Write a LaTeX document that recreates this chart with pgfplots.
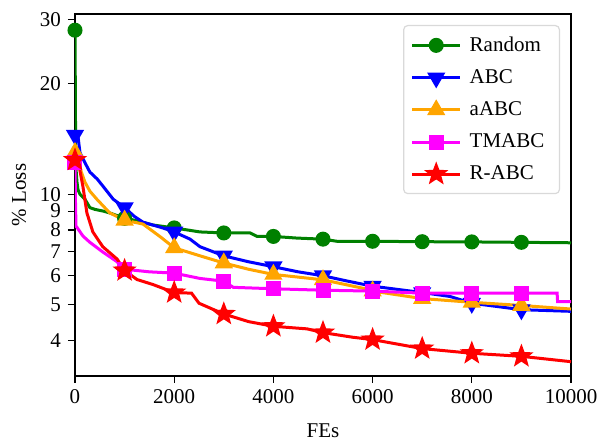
\documentclass[border=0pt]{standalone}
\usepackage{pgfplots}
\pgfplotsset{compat=1.18}
\usepackage{fontspec}
\setmainfont{Liberation Serif}
\usetikzlibrary{calc}
\definecolor{cgreen}{RGB}{0,128,0}
\definecolor{cblue}{RGB}{0,0,255}
\definecolor{corange}{RGB}{255,165,0}
\definecolor{cmag}{RGB}{255,0,255}
\definecolor{cred}{RGB}{255,0,0}
\pgfdeclareplotmark{fstar}{%
  \pgfpathmoveto{\pgfpointpolar{90}{\pgfplotmarksize}}%
  \pgfpathlineto{\pgfpointpolar{126}{0.42\pgfplotmarksize}}%
  \pgfpathlineto{\pgfpointpolar{162}{\pgfplotmarksize}}%
  \pgfpathlineto{\pgfpointpolar{198}{0.42\pgfplotmarksize}}%
  \pgfpathlineto{\pgfpointpolar{234}{\pgfplotmarksize}}%
  \pgfpathlineto{\pgfpointpolar{270}{0.42\pgfplotmarksize}}%
  \pgfpathlineto{\pgfpointpolar{306}{\pgfplotmarksize}}%
  \pgfpathlineto{\pgfpointpolar{342}{0.42\pgfplotmarksize}}%
  \pgfpathlineto{\pgfpointpolar{18}{\pgfplotmarksize}}%
  \pgfpathlineto{\pgfpointpolar{54}{0.42\pgfplotmarksize}}%
  \pgfpathclose\pgfusepathqfillstroke}
\begin{document}
\begin{tikzpicture}
\begin{axis}[
  width=248pt,height=181pt,scale only axis,
  xmin=0,xmax=10000,ymode=log,ymin=3.2,ymax=31,
  scaled x ticks=false,
  xtick={0,2000,4000,6000,8000,10000},
  xticklabels={0,2000,4000,6000,8000,10000},
  ytick={4,5,6,7,8,9,10,20,30},
  yticklabels={4,5,6,7,8,9,10,20,30},
  yminorticks=false,
  tick align=outside, tick pos=left,
  major tick length=3.5pt,
  every tick/.style={black,line width=0.6pt},
  axis line style={line width=0.75pt},
  tick label style={font=\fontsize{10.5}{12}\selectfont},
  label style={font=\fontsize{10.5}{12}\selectfont},
  xlabel={FEs}, ylabel={\% Loss},
  xlabel style={yshift=-3pt},
  legend style={at={(1,1)},anchor=north east,xshift=-5.5pt,yshift=-5.5pt,
    draw=black!15,rounded corners=2pt,line width=0.6pt,
    font=\fontsize{10.5}{12}\selectfont,row sep=3.6pt,inner xsep=3.5pt,inner ysep=3.5pt,
    nodes={inner xsep=4pt}},
  legend cell align=left,
  legend image code/.code={\draw[mark repeat=2,mark phase=2] plot coordinates {(0pt,0pt) (12pt,0pt) (24pt,0pt)};},
  every axis plot/.append style={line width=1.5pt},
]
% Random
\addplot[cgreen,forget plot] coordinates {(0,28) (15,12) (40,10.8) (60,10.3) (100,10.0) (200,9.7) (300,9.2) (400,9.1) (570,9.0) (700,8.9) (900,8.7) (1200,8.5) (1570,8.25) (2000,8.1) (2520,7.9) (3000,7.85) (3530,7.85) (3670,7.68) (4000,7.68) (4480,7.6) (5000,7.55) (5280,7.45) (6000,7.45) (7000,7.43) (8000,7.42) (9000,7.4) (10000,7.38)};
\addplot[cgreen,only marks,mark=*,mark size=3pt,forget plot] coordinates {(0,28) (1000,8.6) (2000,8.1) (3000,7.85) (4000,7.68) (5000,7.55) (6000,7.45) (7000,7.43) (8000,7.42) (9000,7.4)};
% ABC
\addplot[cblue,forget plot] coordinates {(0,14.7) (60,14.4) (100,13.0) (200,12.2) (300,11.5) (450,11.0) (570,10.5) (770,9.7) (1000,9.2) (1200,8.7) (1370,8.4) (1770,8.1) (2000,7.9) (2320,7.55) (2520,7.2) (3000,6.8) (3500,6.55) (4000,6.35) (4500,6.15) (5000,6.0) (5500,5.8) (6000,5.62) (7000,5.4) (7560,5.27) (8000,5.05) (8500,4.95) (9000,4.85) (10000,4.8)};
\addplot[cblue,only marks,mark=triangle*,mark size=3.8pt,mark options={rotate=180},forget plot] coordinates {(0,14.5) (1000,9.2) (2000,7.9) (3000,6.8) (4000,6.35) (5000,6.0) (6000,5.62) (7000,5.4) (8000,5.05) (9000,4.85)};
% aABC
\addplot[corange,forget plot] coordinates {(0,13.0) (60,12.2) (200,10.8) (300,10.2) (440,9.7) (700,8.9) (1000,8.5) (1370,8.3) (1710,7.68) (2000,7.15) (2520,6.8) (3000,6.5) (3500,6.25) (4000,6.05) (4500,5.95) (5000,5.85) (5800,5.55) (6000,5.45) (7000,5.2) (8000,5.08) (9000,4.98) (10000,4.87)};
\addplot[corange,only marks,mark=triangle*,mark size=3.8pt,forget plot] coordinates {(0,13.0) (1000,8.5) (2000,7.15) (3000,6.5) (4000,6.05) (5000,5.85) (6000,5.45) (7000,5.2) (8000,5.08) (9000,4.98)};
% TMABC
\addplot[cmag,forget plot] coordinates {(0,12.2) (10,9.5) (20,8.2) (160,7.7) (300,7.4) (570,6.95) (850,6.55) (1000,6.25) (1500,6.15) (2000,6.1) (2520,5.9) (3000,5.8) (3190,5.58) (4000,5.53) (5000,5.48) (6000,5.45) (7000,5.38) (8000,5.38) (9000,5.38) (9720,5.38) (9730,5.1) (10000,5.1)};
\addplot[cmag,only marks,mark=square*,mark size=3pt,forget plot] coordinates {(0,12.2) (1000,6.25) (2000,6.1) (3000,5.8) (4000,5.53) (5000,5.48) (6000,5.45) (7000,5.38) (8000,5.38) (9000,5.38)};
% R-ABC
\addplot[cred,forget plot] coordinates {(0,12.5) (60,12.4) (160,10.5) (240,8.9) (360,7.9) (560,7.2) (850,6.66) (1000,6.2) (1250,5.86) (1570,5.68) (2000,5.4) (2350,5.38) (2500,5.05) (3000,4.72) (3500,4.5) (4000,4.37) (4680,4.3) (5000,4.2) (5600,4.08) (6000,4.02) (7000,3.8) (8000,3.69) (9000,3.62) (10000,3.5)};
\addplot[cred,only marks,mark=fstar,mark size=4.2pt,forget plot] coordinates {(0,12.4) (1000,6.2) (2000,5.4) (3000,4.72) (4000,4.37) (5000,4.2) (6000,4.02) (7000,3.8) (8000,3.69) (9000,3.62)};
\addlegendimage{cgreen,line width=1.5pt,mark=*,mark size=3pt}
\addlegendentry{Random}
\addlegendimage{cblue,line width=1.5pt,mark=triangle*,mark size=3.8pt,mark options={rotate=180}}
\addlegendentry{ABC}
\addlegendimage{corange,line width=1.5pt,mark=triangle*,mark size=3.8pt}
\addlegendentry{aABC}
\addlegendimage{cmag,line width=1.5pt,mark=square*,mark size=3pt}
\addlegendentry{TMABC}
\addlegendimage{cred,line width=1.5pt,mark=fstar,mark size=4.2pt}
\addlegendentry{R-ABC}
\end{axis}
\pgfresetboundingbox
\path ($(current axis.south west)+(-37.5pt,-32.5pt)$) rectangle ($(current axis.north east)+(15pt,7pt)$);
\end{tikzpicture}
\end{document}
